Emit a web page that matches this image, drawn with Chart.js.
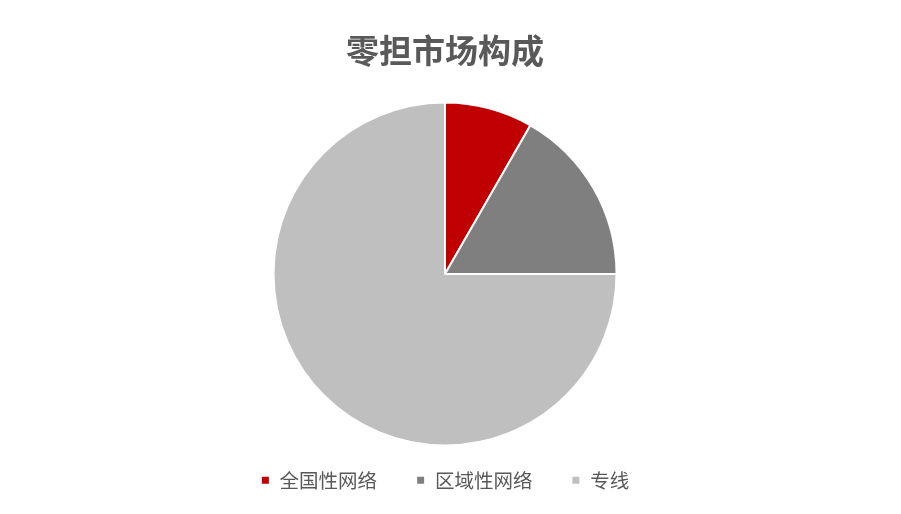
<!DOCTYPE html>
<html>
<head>
<meta charset="utf-8">
<script src="https://cdn.jsdelivr.net/npm/chart.js@4"></script>
<style>
html,body{margin:0;padding:0;background:#fff;}
#wrap{width:901px;height:514px;}
</style>
</head>
<body>
<div id="wrap"><canvas id="c" width="901" height="514"></canvas></div>
<script>
const categories = ['全国性网络', '区域性网络', '专线'];
const shares = [8.3, 16.7, 75];
const sliceColors = ['#C00000', '#7F7F7F', '#BFBFBF'];
const chartTitle = '零担市场构成';

const FONT = '"Noto Sans CJK SC", "Noto Sans", sans-serif';

new Chart(document.getElementById('c'), {
  type: 'pie',
  data: {
    labels: categories,
    datasets: [{
      data: shares,
      backgroundColor: sliceColors,
      borderColor: '#ffffff',
      borderWidth: 2,
      radius: 171.5,
      clip: false
    }]
  },
  options: {
    responsive: false,
    animation: false,
    devicePixelRatio: 1,
    layout: { padding: { left: 0, right: 11, top: 0, bottom: 14 } },
    plugins: {
      title: {
        display: true,
        text: chartTitle,
        color: '#595959',
        font: { family: FONT, size: 33, weight: 'bold', lineHeight: 1.2 },
        padding: { top: 30.7, bottom: 46.2 }
      },
      legend: {
        display: true,
        position: 'bottom',
        labels: {
          color: '#595959',
          font: { family: FONT, size: 19.5 },
          boxWidth: 9,
          boxHeight: 9,
          padding: 39
        }
      },
      tooltip: { enabled: false }
    }
  }
});
</script>
</body>
</html>
